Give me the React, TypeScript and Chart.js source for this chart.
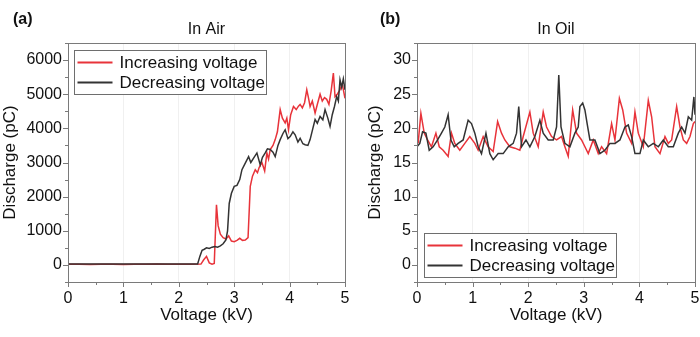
import React, { useEffect, useRef } from 'react';
import { Chart, registerables } from 'chart.js';
Chart.register(...registerables);

const FONT = "'Liberation Sans', Arial, sans-serif";
const RED = '#e8333a';
const DARK = '#333333';

// ---- Panel (a): In Air ----
const airIncV = [0, 0.2, 0.4, 0.6, 0.8, 1.0, 1.2, 1.4, 1.6, 1.8, 2.0, 2.2, 2.4, 2.45, 2.5, 2.55, 2.6, 2.64, 2.68, 2.71, 2.75,
  2.8, 2.85, 2.9, 2.95, 3.0, 3.05, 3.1, 3.15, 3.2, 3.25, 3.29, 3.33, 3.38, 3.42, 3.45, 3.5, 3.55, 3.59, 3.62, 3.65,
  3.7, 3.74, 3.78, 3.83, 3.87, 3.92, 3.95, 3.98, 4.02, 4.07, 4.12, 4.16, 4.19, 4.23, 4.27, 4.31, 4.34, 4.37, 4.41, 4.46,
  4.5, 4.55, 4.59, 4.63, 4.67, 4.71, 4.75, 4.79, 4.82, 4.86, 4.91, 4.95, 5.0];
const airIncQ = [20, 20, 15, 20, 20, 15, 20, 20, 25, 20, 20, 20, 25, 150, 250, 60, 20, 40, 1760, 1150, 900,
  800, 760, 850, 700, 680, 720, 780, 720, 730, 800, 2300, 2600, 2786, 2700, 2850, 3000, 2750, 3280, 3100, 3380,
  3500, 3670, 3900, 4550, 4300, 4160, 4300, 3960, 4400, 4640, 4550, 4650, 4700, 4600, 4750, 5130, 4900, 4640, 4800, 4450,
  4700, 5000, 4800, 4900, 4850, 4700, 5100, 5620, 4930, 5000, 5130, 5300, 4880];

const airDecV = [0, 0.2, 0.4, 0.6, 0.8, 1.0, 1.2, 1.4, 1.6, 1.8, 2.0, 2.2, 2.34, 2.38, 2.42, 2.46, 2.5, 2.55, 2.6, 2.65, 2.7, 2.75,
  2.8, 2.85, 2.88, 2.91, 2.95, 3.0, 3.05, 3.1, 3.14, 3.2, 3.26, 3.3, 3.35, 3.41, 3.47, 3.51, 3.56, 3.6, 3.65, 3.7,
  3.74, 3.79, 3.83, 3.88, 3.92, 3.97, 4.01, 4.06, 4.1, 4.15, 4.19, 4.24, 4.28, 4.33, 4.37, 4.42, 4.46, 4.5, 4.55, 4.6,
  4.64, 4.69, 4.73, 4.77, 4.81, 4.85, 4.88, 4.91, 4.94, 4.97, 5.0];
const airDecQ = [30, 30, 30, 30, 30, 30, 30, 30, 30, 30, 30, 30, 30, 250, 430, 460, 500, 480, 520, 540, 520, 560,
  620, 730, 1000, 1800, 2100, 2300, 2330, 2500, 2790, 2980, 3170, 3000, 3130, 3280, 2930, 3150, 3280, 3400, 3380, 3300,
  3170, 3500, 3670, 3850, 3960, 3700, 3760, 3900, 3810, 3600, 3710, 3550, 3520, 3500, 3670, 4000, 4260, 4150, 4350, 4250,
  4550, 4300, 4060, 4400, 4640, 4930, 4800, 5420, 5200, 5450, 5130];

// ---- Panel (b): In Oil ----
const oilIncV = [0.02, 0.07, 0.13, 0.19, 0.26, 0.34, 0.4, 0.47, 0.56, 0.62, 0.68, 0.77, 0.86, 0.95, 1.04, 1.1, 1.19, 1.28, 1.37, 1.45,
  1.52, 1.58, 1.67, 1.76, 1.85, 1.91, 2.03, 2.09, 2.18, 2.27, 2.33, 2.42, 2.51, 2.6, 2.66, 2.72, 2.8, 2.87, 2.96, 3.02,
  3.08, 3.17, 3.26, 3.32, 3.41, 3.5, 3.56, 3.64, 3.7, 3.77, 3.86, 3.92, 3.98, 4.07, 4.16, 4.22, 4.28, 4.37, 4.46, 4.52,
  4.58, 4.67, 4.73, 4.79, 4.85, 4.91, 4.97, 5.0];
const oilIncQ = [17.8, 22.2, 19.3, 18.3, 17.3, 19.3, 17.3, 16.8, 15.9, 19.3, 17.8, 16.8, 17.8, 18.8, 17.8, 16.8, 18.8, 17.3, 16.6, 21.0,
  19.3, 18.3, 17.3, 17.1, 16.8, 18.8, 22.4, 19.3, 17.3, 22.4, 20.2, 18.8, 18.3, 18.8, 17.3, 15.9, 22.7, 19.3, 18.3, 17.3,
  16.3, 18.3, 16.3, 17.3, 16.3, 20.7, 18.3, 24.4, 22.7, 19.3, 17.8, 22.4, 19.3, 17.3, 24.1, 21.7, 17.3, 16.3, 18.8, 17.8,
  18.3, 23.2, 20.2, 18.3, 17.8, 18.8, 20.7, 21.0];

const oilDecV = [0.0, 0.05, 0.1, 0.16, 0.22, 0.29, 0.37, 0.44, 0.5, 0.56, 0.61, 0.67, 0.74, 0.83, 0.92, 0.98, 1.04, 1.1, 1.16, 1.24,
  1.31, 1.37, 1.46, 1.55, 1.64, 1.73, 1.79, 1.83, 1.88, 1.96, 2.03, 2.12, 2.21, 2.27, 2.36, 2.45, 2.51, 2.55, 2.59, 2.66,
  2.75, 2.84, 2.9, 2.93, 2.98, 3.02, 3.06, 3.11, 3.2, 3.29, 3.38, 3.47, 3.56, 3.65, 3.74, 3.8, 3.86, 3.92, 4.01, 4.07,
  4.16, 4.25, 4.34, 4.43, 4.52, 4.61, 4.7, 4.76, 4.82, 4.88, 4.94, 4.98, 5.0];
const oilDecQ = [17.3, 17.8, 19.5, 19.3, 16.8, 17.3, 18.3, 19.3, 20.2, 22.0, 18.3, 17.3, 17.8, 18.3, 21.2, 20.7, 19.3, 17.3, 16.3, 19.3,
  16.3, 15.4, 16.3, 16.3, 17.3, 17.8, 19.3, 23.2, 17.3, 18.3, 17.3, 18.8, 21.2, 19.3, 18.3, 18.3, 20.2, 27.8, 20.2, 17.8,
  17.3, 19.3, 20.2, 23.2, 23.7, 22.7, 20.7, 18.3, 18.3, 16.3, 16.8, 17.8, 17.8, 18.3, 20.2, 20.5, 18.8, 16.3, 16.3, 18.3,
  17.3, 17.8, 17.3, 18.3, 17.3, 17.3, 19.3, 20.2, 19.3, 21.7, 21.2, 24.6, 22.0];

const SERIES_LABELS = ['Increasing voltage', 'Decreasing voltage'];

type Panel = {
  tag: string;
  title: string;
  incV: number[]; incQ: number[];
  decV: number[]; decQ: number[];
  yMin: number; yMax: number; yMajor: number; yMinor: number;
  yAxisWidth: number;
  yTitleX: number;
  legendTop: boolean;
  legendDx: number;
};

const panels: Panel[] = [
  { tag: '(a)', title: 'In Air', incV: airIncV, incQ: airIncQ, decV: airDecV, decQ: airDecQ,
    yMin: -500, yMax: 6500, yMajor: 1000, yMinor: 500, yAxisWidth: 68, yTitleX: 10, legendTop: true, legendDx: 6 },
  { tag: '(b)', title: 'In Oil', incV: oilIncV, incQ: oilIncQ, decV: oilDecV, decQ: oilDecQ,
    yMin: -2.5, yMax: 32.5, yMajor: 5, yMinor: 2.5, yAxisWidth: 67, yTitleX: 25, legendTop: false, legendDx: 7 },
];

function isMult(v: number, step: number) {
  const r = v / step;
  return Math.abs(r - Math.round(r)) < 1e-6;
}

function makeDecor(p: Panel) {
  return {
    id: 'decor' + p.tag,
    afterDraw(chart: any) {
      const ctx = chart.ctx;
      const a = chart.chartArea;
      const xs = chart.scales.x;
      const ys = chart.scales.y;
      ctx.save();
      // frame
      ctx.strokeStyle = '#7a7a7a';
      ctx.lineWidth = 1;
      ctx.strokeRect(Math.round(a.left) + 0.5, Math.round(a.top) + 0.5, Math.round(a.right - a.left), Math.round(a.bottom - a.top));
      // x ticks
      ctx.beginPath();
      for (let v = 0; v <= 5.0001; v += 0.5) {
        const px = Math.round(xs.getPixelForValue(v)) + 0.5;
        const len = isMult(v, 1) ? 5 : 3;
        ctx.moveTo(px, a.bottom);
        ctx.lineTo(px, a.bottom + len);
      }
      // y ticks
      for (let v = p.yMin; v <= p.yMax + 1e-6; v += p.yMinor) {
        const py = Math.round(ys.getPixelForValue(v)) + 0.5;
        const len = isMult(v, p.yMajor) ? 5 : 3;
        ctx.moveTo(a.left, py);
        ctx.lineTo(a.left - len, py);
      }
      ctx.stroke();

      // panel tag
      ctx.fillStyle = '#111';
      ctx.font = `bold 16px ${FONT}`;
      ctx.textAlign = 'left';
      ctx.textBaseline = 'middle';
      ctx.fillText(p.tag, p.tag === '(a)' ? 13 : 30, 20);
      // title
      ctx.font = `16px ${FONT}`;
      ctx.textAlign = 'center';
      ctx.fillText(p.title, (a.left + a.right) / 2, a.top - 13);
      // x axis title
      ctx.font = `17px ${FONT}`;
      ctx.fillText('Voltage (kV)', (a.left + a.right) / 2, a.bottom + 33);
      // y axis title
      ctx.save();
      ctx.translate(p.yTitleX, (a.top + a.bottom) / 2);
      ctx.rotate(-Math.PI / 2);
      ctx.fillText('Discharge (pC)', 0, 0);
      ctx.restore();

      // legend
      const bw = 192, bh = 44;
      const bx = Math.round(a.left + p.legendDx) + 0.5;
      const by = p.legendTop ? Math.round(a.top + 7) + 0.5 : Math.round(a.bottom - 5 - bh) + 0.5;
      ctx.fillStyle = '#ffffff';
      ctx.fillRect(bx, by, bw, bh);
      ctx.strokeStyle = '#6e6e6e';
      ctx.lineWidth = 1;
      ctx.strokeRect(bx, by, bw, bh);
      const colors = [RED, DARK];
      ctx.font = `17px ${FONT}`;
      ctx.textAlign = 'left';
      ctx.textBaseline = 'middle';
      for (let i = 0; i < 2; i++) {
        const cy = by + 12 + i * 20;
        ctx.strokeStyle = colors[i];
        ctx.lineWidth = 2;
        ctx.beginPath();
        ctx.moveTo(bx + 3, cy);
        ctx.lineTo(bx + 38, cy);
        ctx.stroke();
        ctx.fillStyle = '#111';
        ctx.fillText(SERIES_LABELS[i], bx + 45, cy + 1);
      }
      ctx.restore();
    },
  };
}

function PanelChart({ p, left }: { p: Panel; left: number }) {
  const ref = useRef<HTMLCanvasElement | null>(null);
  useEffect(() => {
    if (!ref.current) return;
    const chart = new Chart(ref.current, {
      type: 'line',
      data: {
        datasets: [
          {
            label: SERIES_LABELS[1],
            data: p.decV.map((v, i) => ({ x: v, y: p.decQ[i] })),
            borderColor: DARK,
            borderWidth: 1.5,
            pointRadius: 0,
            tension: 0,
          },
          {
            label: SERIES_LABELS[0],
            data: p.incV.map((v, i) => ({ x: v, y: p.incQ[i] })),
            borderColor: RED,
            borderWidth: 1.5,
            pointRadius: 0,
            tension: 0,
          },
        ],
      },
      options: {
        responsive: false,
        animation: false,
        layout: { padding: { top: 43, right: 5, left: 0, bottom: 0 } },
        plugins: { legend: { display: false }, tooltip: { enabled: false }, title: { display: false } },
        scales: {
          x: {
            type: 'linear',
            min: 0,
            max: 5,
            border: { display: false },
            grid: {
              drawTicks: false,
              color: (c: any) => {
                const v = c.tick ? c.tick.value : 0;
                return isMult(v, 1) && v > 0 && v < 5 ? 'rgba(0,0,0,0.06)' : 'rgba(0,0,0,0)';
              },
            },
            ticks: {
              stepSize: 0.5,
              autoSkip: false,
              maxRotation: 0,
              padding: 7,
              color: '#111',
              font: { family: FONT, size: 16 },
              callback: (v: any) => (isMult(Number(v), 1) ? String(v) : ''),
            },
            afterFit: (s: any) => { s.height = 55; s.paddingLeft = 0; s.paddingRight = 0; },
          },
          y: {
            type: 'linear',
            min: p.yMin,
            max: p.yMax,
            border: { display: false },
            grid: { display: false, drawTicks: false },
            ticks: {
              stepSize: p.yMinor,
              autoSkip: false,
              padding: 6,
              color: '#111',
              font: { family: FONT, size: 16 },
              callback: (v: any) => (isMult(Number(v), p.yMajor) ? String(v) : ''),
            },
            afterFit: (s: any) => { s.width = p.yAxisWidth; s.paddingTop = 0; s.paddingBottom = 0; },
          },
        },
      },
      plugins: [makeDecor(p)],
    } as any);
    return () => chart.destroy();
  }, [p]);
  return (
    <canvas
      ref={ref}
      width={350}
      height={337}
      style={{ position: 'absolute', left, top: 0, width: 350, height: 337 }}
    />
  );
}

export default function App() {
  return (
    <div style={{ position: 'absolute', left: 0, top: 0, width: 700, height: 337, background: '#ffffff', overflow: 'hidden' }}>
      <PanelChart p={panels[0]} left={0} />
      <PanelChart p={panels[1]} left={350} />
    </div>
  );
}
